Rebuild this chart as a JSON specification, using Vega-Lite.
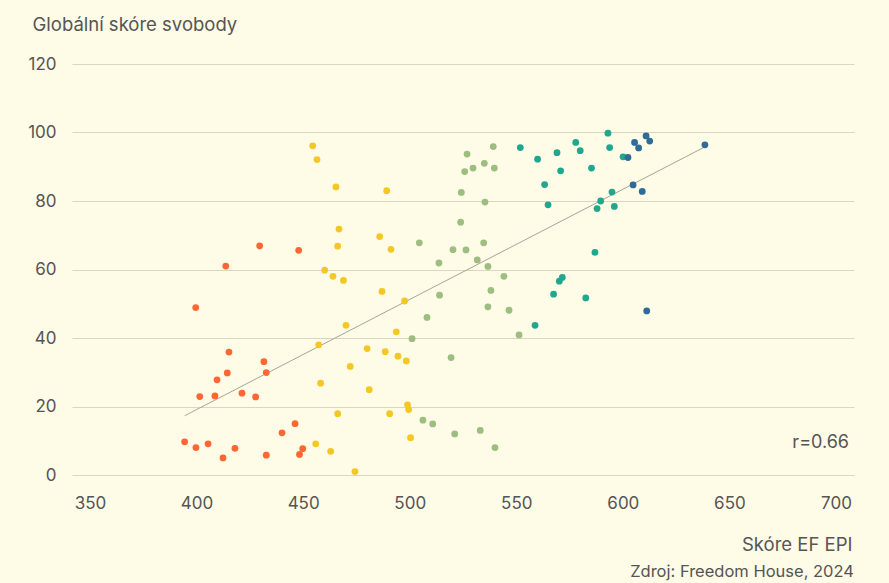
{
  "$schema": "https://vega.github.io/schema/vega-lite/v6.json",
  "width": 782,
  "height": 411,
  "autosize": {"type": "none"},
  "padding": {"left": 72, "top": 64, "right": 35, "bottom": 108},
  "background": "#fefbe6",
  "title": {
    "text": "Zdroj: Freedom House, 2024",
    "orient": "bottom",
    "anchor": "end",
    "fontSize": 16.5,
    "fontWeight": "normal",
    "color": "#555555",
    "font": "Inter",
    "offset": 10
  },
  "config": {
    "view": {"stroke": null},
    "font": "Inter",
    "axis": {"labelFont": "Inter", "titleFont": "Inter"}
  },
  "datasets": {
    "pts": [
      {"epi": 429.6, "free": 66.9, "g": "o"}, {"epi": 447.9, "free": 65.6, "g": "o"}, {"epi": 413.7, "free": 61.0, "g": "o"},
      {"epi": 399.6, "free": 48.9, "g": "o"}, {"epi": 415.2, "free": 35.9, "g": "o"}, {"epi": 431.6, "free": 33.1, "g": "o"},
      {"epi": 414.4, "free": 29.8, "g": "o"}, {"epi": 432.7, "free": 29.9, "g": "o"}, {"epi": 409.6, "free": 27.8, "g": "o"},
      {"epi": 421.3, "free": 23.9, "g": "o"}, {"epi": 401.5, "free": 22.9, "g": "o"}, {"epi": 408.6, "free": 23.1, "g": "o"},
      {"epi": 427.7, "free": 22.8, "g": "o"}, {"epi": 446.2, "free": 15.0, "g": "o"}, {"epi": 440.1, "free": 12.3, "g": "o"},
      {"epi": 394.4, "free": 9.7, "g": "o"}, {"epi": 399.7, "free": 8.0, "g": "o"}, {"epi": 405.4, "free": 9.1, "g": "o"},
      {"epi": 412.4, "free": 5.0, "g": "o"}, {"epi": 418.0, "free": 7.8, "g": "o"}, {"epi": 432.7, "free": 5.8, "g": "o"},
      {"epi": 449.8, "free": 7.7, "g": "o"}, {"epi": 448.3, "free": 6.0, "g": "o"},
      {"epi": 454.5, "free": 96.1, "g": "y"}, {"epi": 456.5, "free": 92.1, "g": "y"}, {"epi": 465.4, "free": 84.1, "g": "y"},
      {"epi": 489.2, "free": 83.0, "g": "y"}, {"epi": 466.8, "free": 71.8, "g": "y"}, {"epi": 485.9, "free": 69.6, "g": "y"},
      {"epi": 466.2, "free": 66.8, "g": "y"}, {"epi": 491.2, "free": 65.9, "g": "y"}, {"epi": 460.1, "free": 59.8, "g": "y"},
      {"epi": 464.0, "free": 58.0, "g": "y"}, {"epi": 468.9, "free": 56.8, "g": "y"}, {"epi": 487.0, "free": 53.6, "g": "y"},
      {"epi": 497.6, "free": 50.8, "g": "y"}, {"epi": 470.1, "free": 43.7, "g": "y"}, {"epi": 493.7, "free": 41.8, "g": "y"},
      {"epi": 457.3, "free": 38.0, "g": "y"}, {"epi": 480.0, "free": 36.9, "g": "y"}, {"epi": 488.5, "free": 36.0, "g": "y"},
      {"epi": 494.5, "free": 34.7, "g": "y"}, {"epi": 498.4, "free": 33.3, "g": "y"}, {"epi": 472.1, "free": 31.7, "g": "y"},
      {"epi": 458.2, "free": 26.8, "g": "y"}, {"epi": 481.0, "free": 24.9, "g": "y"}, {"epi": 499.0, "free": 20.5, "g": "y"},
      {"epi": 499.5, "free": 19.1, "g": "y"}, {"epi": 466.2, "free": 17.9, "g": "y"}, {"epi": 490.6, "free": 17.9, "g": "y"},
      {"epi": 500.4, "free": 10.9, "g": "y"}, {"epi": 455.9, "free": 9.1, "g": "y"}, {"epi": 462.9, "free": 6.9, "g": "y"},
      {"epi": 474.3, "free": 1.0, "g": "y"},
      {"epi": 539.2, "free": 95.9, "g": "g"}, {"epi": 526.9, "free": 93.7, "g": "g"}, {"epi": 535.0, "free": 91.0, "g": "g"},
      {"epi": 529.7, "free": 89.6, "g": "g"}, {"epi": 525.8, "free": 88.6, "g": "g"}, {"epi": 539.7, "free": 89.6, "g": "g"},
      {"epi": 524.2, "free": 82.5, "g": "g"}, {"epi": 535.3, "free": 79.7, "g": "g"}, {"epi": 523.9, "free": 73.8, "g": "g"},
      {"epi": 504.5, "free": 67.8, "g": "g"}, {"epi": 520.3, "free": 65.8, "g": "g"}, {"epi": 526.4, "free": 65.7, "g": "g"},
      {"epi": 534.7, "free": 67.8, "g": "g"}, {"epi": 531.7, "free": 62.8, "g": "g"}, {"epi": 513.7, "free": 61.9, "g": "g"},
      {"epi": 536.7, "free": 60.9, "g": "g"}, {"epi": 544.2, "free": 58.0, "g": "g"}, {"epi": 538.1, "free": 53.9, "g": "g"},
      {"epi": 514.0, "free": 52.5, "g": "g"}, {"epi": 536.7, "free": 49.1, "g": "g"}, {"epi": 546.6, "free": 48.1, "g": "g"},
      {"epi": 508.1, "free": 46.0, "g": "g"}, {"epi": 551.3, "free": 40.9, "g": "g"}, {"epi": 501.1, "free": 39.8, "g": "g"},
      {"epi": 519.4, "free": 34.3, "g": "g"}, {"epi": 506.2, "free": 16.0, "g": "g"}, {"epi": 510.8, "free": 14.9, "g": "g"},
      {"epi": 533.1, "free": 13.0, "g": "g"}, {"epi": 521.1, "free": 12.0, "g": "g"}, {"epi": 540.0, "free": 8.0, "g": "g"},
      {"epi": 551.9, "free": 95.6, "g": "t"}, {"epi": 560.0, "free": 92.2, "g": "t"}, {"epi": 563.3, "free": 84.8, "g": "t"},
      {"epi": 564.9, "free": 78.9, "g": "t"}, {"epi": 593.0, "free": 99.8, "g": "t"}, {"epi": 577.9, "free": 97.1, "g": "t"},
      {"epi": 569.1, "free": 94.1, "g": "t"}, {"epi": 580.0, "free": 94.7, "g": "t"}, {"epi": 593.8, "free": 95.6, "g": "t"},
      {"epi": 570.8, "free": 88.8, "g": "t"}, {"epi": 585.3, "free": 89.6, "g": "t"}, {"epi": 600.1, "free": 92.9, "g": "t"},
      {"epi": 594.9, "free": 82.6, "g": "t"}, {"epi": 589.6, "free": 80.0, "g": "t"}, {"epi": 587.9, "free": 77.8, "g": "t"},
      {"epi": 596.0, "free": 78.4, "g": "t"}, {"epi": 586.9, "free": 65.0, "g": "t"}, {"epi": 571.6, "free": 57.7, "g": "t"},
      {"epi": 570.2, "free": 56.6, "g": "t"}, {"epi": 567.5, "free": 52.8, "g": "t"}, {"epi": 582.6, "free": 51.7, "g": "t"},
      {"epi": 558.8, "free": 43.7, "g": "t"},
      {"epi": 610.9, "free": 99.0, "g": "b"}, {"epi": 612.6, "free": 97.5, "g": "b"}, {"epi": 605.5, "free": 97.1, "g": "b"},
      {"epi": 607.4, "free": 95.5, "g": "b"}, {"epi": 602.4, "free": 92.7, "g": "b"}, {"epi": 604.8, "free": 84.7, "g": "b"},
      {"epi": 609.1, "free": 82.8, "g": "b"}, {"epi": 611.2, "free": 47.9, "g": "b"}, {"epi": 638.5, "free": 96.4, "g": "b"}
    ],
    "trend": [
      {"epi": 394.4, "free": 17.3},
      {"epi": 638.5, "free": 95.8}
    ],
    "note": [
      {"epi": 706.1, "free": 9.3, "label": "r=0.66"}
    ]
  },
  "encoding": {
    "x": {
      "field": "epi",
      "type": "quantitative",
      "scale": {"domain": [341.55, 708.45], "nice": false, "zero": false},
      "axis": {
        "values": [350, 400, 450, 500, 550, 600, 650, 700],
        "grid": false,
        "domain": false,
        "ticks": false,
        "labelPadding": 20,
        "labelFontSize": 17,
        "labelColor": "#555555",
        "labelFlush": false,
        "title": "Skóre EF EPI",
        "titleAnchor": "end",
        "titleAlign": "right",
        "titleFontWeight": "normal",
        "titleFontSize": 18.5,
        "titleColor": "#555555",
        "titleX": 780,
        "titleY": 75,
        "titleBaseline": "alphabetic"
      }
    },
    "y": {
      "field": "free",
      "type": "quantitative",
      "scale": {"domain": [0, 120], "nice": false},
      "axis": {
        "values": [0, 20, 40, 60, 80, 100, 120],
        "grid": true,
        "gridColor": "#d9d6c4",
        "gridWidth": 1,
        "domain": false,
        "ticks": false,
        "labelPadding": 16,
        "labelFontSize": 17,
        "labelColor": "#555555",
        "title": "Globální skóre svobody",
        "titleAngle": 0,
        "titleAlign": "left",
        "titleBaseline": "alphabetic",
        "titleX": -40,
        "titleY": -34,
        "titleFontSize": 18.5,
        "titleFontWeight": "normal",
        "titleColor": "#555555"
      }
    }
  },
  "layer": [
    {
      "data": {"name": "trend"},
      "mark": {"type": "line", "color": "#a6a59a", "strokeWidth": 1}
    },
    {
      "data": {"name": "pts"},
      "mark": {"type": "circle", "size": 46, "opacity": 1},
      "encoding": {
        "color": {
          "field": "g",
          "type": "nominal",
          "scale": {"domain": ["o", "y", "g", "t", "b"], "range": ["#ff6633", "#f4c824", "#9ebd80", "#20a88e", "#2e6b96"]},
          "legend": null
        }
      }
    },
    {
      "data": {"name": "note"},
      "mark": {"type": "text", "align": "right", "baseline": "middle", "fontSize": 18, "color": "#555555"},
      "encoding": {"text": {"field": "label"}}
    }
  ]
}
